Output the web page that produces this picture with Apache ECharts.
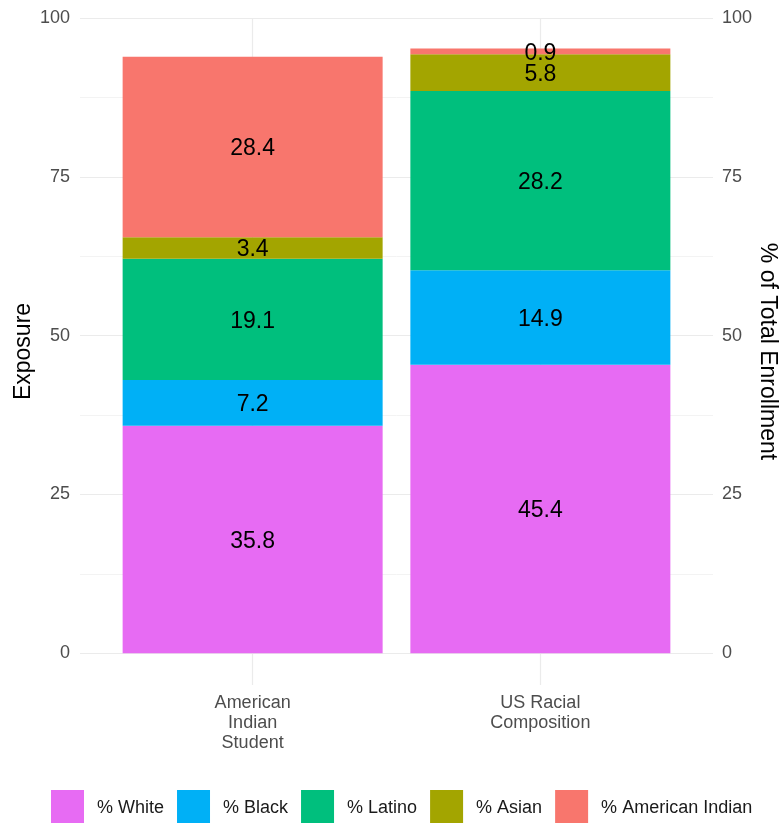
<!DOCTYPE html>
<html>
<head>
<meta charset="utf-8">
<script src="https://cdn.jsdelivr.net/npm/echarts@6/dist/echarts.min.js"></script>
<style>html,body{margin:0;padding:0;background:#fff}#c{width:780px;height:823px}</style>
</head>
<body>
<div id="c"></div>
<script>
var categories = ['American\nIndian\nStudent', 'US Racial\nComposition'];
var seriesNames = ['% White', '% Black', '% Latino', '% Asian', '% American Indian'];
var white = [35.8, 45.4];
var black = [7.2, 14.9];
var latino = [19.1, 28.2];
var asian = [3.4, 5.8];
var americanIndian = [28.4, 0.9];
var yTicks = [0, 25, 50, 75, 100];
var yMinorTicks = [12.5, 37.5, 62.5, 87.5];

var colors = ['#E76BF3', '#00B0F6', '#00BF7D', '#A3A500', '#F8766D'];
var values = [white, black, latino, asian, americanIndian];
var FONT = 'Liberation Sans, Arial, sans-serif';

var chart = echarts.init(document.getElementById('c'), null, {renderer: 'canvas'});

var barSeries = values.map(function (arr, k) {
  return {
    name: seriesNames[k],
    type: 'bar',
    stack: 'total',
    barWidth: 260,
    z: 3,
    encode: {x: 1, y: 0},
    itemStyle: {color: colors[k]},
    label: {
      show: true,
      position: 'inside',
      color: '#000',
      fontSize: 23,
      fontFamily: FONT,
      offset: [0, 2],
      formatter: function (p) { return p.value[0].toFixed(1); }
    },
    data: arr.map(function (v, i) { return [v, i + 1]; })
  };
});

var gridSeries = {
  type: 'scatter',
  data: [],
  silent: true,
  z: 1,
  markLine: {
    silent: true,
    symbol: 'none',
    animation: false,
    z: 1,
    label: {show: false},
    data: []
      .concat(yMinorTicks.map(function (v) { return {yAxis: v, lineStyle: {color: '#f3f3f3', width: 1, type: 'solid'}}; }))
      .concat(yTicks.map(function (v) { return {yAxis: v, lineStyle: {color: '#ebebeb', width: 1.2, type: 'solid'}}; }))
      .concat(categories.map(function (c, i) { return {xAxis: i + 1, lineStyle: {color: '#ebebeb', width: 1.2, type: 'solid'}}; }))
  }
};

chart.setOption({
  animation: false,
  backgroundColor: '#fff',
  textStyle: {fontFamily: FONT},
  grid: {left: 80, right: 67, top: 18, bottom: 138, containLabel: false, outerBoundsMode: 'none'},
  legend: {
    data: seriesNames,
    left: 51,
    top: 790,
    padding: 0,
    itemWidth: 33,
    itemHeight: 36,
    itemGap: 13,
    icon: 'rect',
    textStyle: {fontSize: 18, color: '#1a1a1a', fontFamily: FONT, padding: [0, 0, 0, 8]}
  },
  xAxis: {
    type: 'value',
    min: 0.4,
    max: 2.6,
    axisLine: {show: false},
    axisTick: {show: false},
    splitLine: {show: false},
    axisLabel: {
      customValues: categories.map(function (c, i) { return i + 1; }),
      formatter: function (v) { return categories[Math.round(v) - 1] || ''; },
      color: '#4d4d4d',
      fontSize: 18,
      lineHeight: 20,
      margin: 8,
      fontFamily: FONT
    }
  },
  yAxis: [{
    type: 'value',
    min: -5,
    max: 100,
    position: 'left',
    name: 'Exposure',
    nameLocation: 'middle',
    nameGap: 45,
    nameMoveOverlap: false,
    nameTextStyle: {fontSize: 23, color: '#000', fontFamily: FONT},
    axisLine: {show: false},
    axisTick: {show: false},
    splitLine: {show: false},
    axisLabel: {customValues: yTicks, color: '#4d4d4d', fontSize: 18, margin: 10, fontFamily: FONT}
  }, {
    type: 'value',
    min: -5,
    max: 100,
    position: 'right',
    name: '% of Total Enrollment',
    nameLocation: 'middle',
    nameRotate: -90,
    nameGap: 43,
    nameMoveOverlap: false,
    nameTextStyle: {fontSize: 23, color: '#000', fontFamily: FONT},
    axisLine: {show: false},
    axisTick: {show: false},
    splitLine: {show: false},
    axisLabel: {customValues: yTicks, color: '#4d4d4d', fontSize: 18, margin: 9, fontFamily: FONT}
  }],
  series: [gridSeries].concat(barSeries)
});
</script>
</body>
</html>
